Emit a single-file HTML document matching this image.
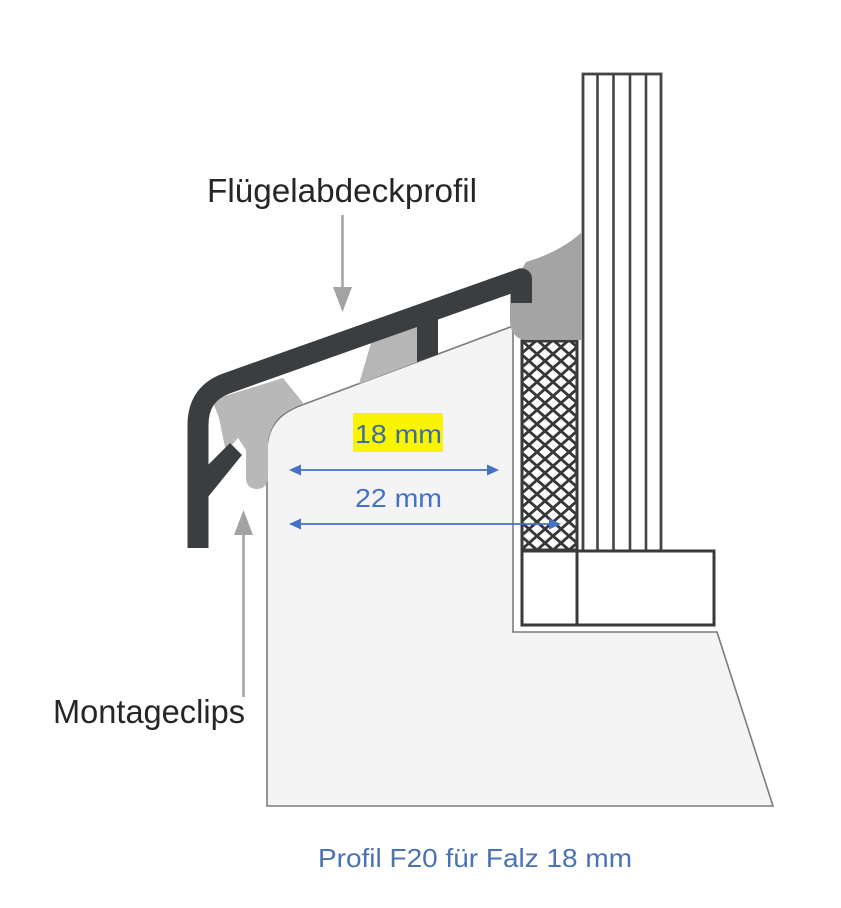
<!DOCTYPE html>
<html>
<head>
<meta charset="utf-8">
<style>
  html, body { margin: 0; padding: 0; background: #ffffff; }
  svg { display: block; }
  text { font-family: "Liberation Sans", sans-serif; }
</style>
</head>
<body>
<svg width="841" height="908" viewBox="0 0 841 908" xmlns="http://www.w3.org/2000/svg">
  <defs>
    <pattern id="hatch" patternUnits="userSpaceOnUse" x="521" y="340" width="16" height="14">
      <rect width="16" height="14" fill="#ffffff"/>
      <line x1="-1" y1="-0.875" x2="17" y2="14.875" stroke="#383838" stroke-width="2.9"/>
      <line x1="17" y1="-0.875" x2="-1" y2="14.875" stroke="#383838" stroke-width="2.9"/>
    </pattern>
  </defs>

  <rect width="841" height="908" fill="#ffffff"/>

  <!-- Sash body -->
  <path d="M513,326 L300,405.7 Q267,418 267,450 L267,806 L773,806 L717,632 L513,632 Z"
        fill="#f4f4f4" stroke="#7c7c7c" stroke-width="1.6" stroke-linejoin="miter"/>

  <!-- Glass -->
  <rect x="583" y="74" width="78" height="477" fill="#ffffff" stroke="#444" stroke-width="2.8"/>
  <line x1="597.5" y1="74" x2="597.5" y2="551" stroke="#444" stroke-width="2.6"/>
  <line x1="613.5" y1="74" x2="613.5" y2="551" stroke="#444" stroke-width="2.6"/>
  <line x1="630" y1="74" x2="630" y2="551" stroke="#444" stroke-width="2.6"/>
  <line x1="646" y1="74" x2="646" y2="551" stroke="#444" stroke-width="2.6"/>

  <!-- Lower frame rectangles -->
  <rect x="522" y="551" width="55" height="74" fill="#ffffff" stroke="#3a3a3a" stroke-width="3"/>
  <rect x="577" y="551" width="137" height="74" fill="#ffffff" stroke="#3a3a3a" stroke-width="3"/>

  <!-- Crosshatch seal -->
  <rect x="522" y="341" width="55" height="209" fill="url(#hatch)" stroke="#3a3a3a" stroke-width="3"/>

  <!-- Gray clips / seal -->
  <path d="M526,262 Q560,252 582,232 L582,340 L524,340 Q511,337 510,322 L510,290 Z" fill="#a4a4a4"/>
  <path d="M371,343 L417,325 L417,362 L359,384 Z" fill="#b6b6b7"/>
  <path d="M212,400 L283,378 L304,404 Q274,411 268,440 L268,478 Q267,489 256,489 Q246,488 246,478 L246,450 L238,438 L226,452 L219,418 Z" fill="#b8b8b9"/>

  <!-- Dark cover profile -->
  <path d="M198,548 L198,425 Q198,394 226,383.6 L521.5,278.8 L521.5,303"
        fill="none" stroke="#3b3e41" stroke-width="21" stroke-linejoin="round" stroke-linecap="butt"/>
  <polygon points="417,318 438,310 438,354.5 417,362" fill="#3b3e41"/>
  <polygon points="208,465 230,443 242,455 208,497" fill="#3b3e41"/>

  <!-- Gray pointer arrows -->
  <line x1="342.5" y1="215" x2="342.5" y2="290" stroke="#a3a3a3" stroke-width="2.5"/>
  <polygon points="333,287 352,287 342.5,312" fill="#a3a3a3"/>
  <line x1="243.5" y1="697" x2="243.5" y2="532" stroke="#a3a3a3" stroke-width="2.5"/>
  <polygon points="234,535 253,535 243.5,510" fill="#a3a3a3"/>

  <!-- Blue dimension arrows -->
  <line x1="298" y1="470" x2="490" y2="470" stroke="#4472c4" stroke-width="1.8"/>
  <polygon points="289,470 301,464.5 301,475.5" fill="#4472c4"/>
  <polygon points="499,470 487,464.5 487,475.5" fill="#4472c4"/>
  <line x1="298" y1="524" x2="552" y2="524" stroke="#4472c4" stroke-width="1.8"/>
  <polygon points="289,524 301,518.5 301,529.5" fill="#4472c4"/>
  <polygon points="561,524 549,518.5 549,529.5" fill="#4472c4"/>

  <!-- 18 mm highlighted -->
  <rect x="353" y="413" width="90" height="39" fill="#f9f400"/>
  <text x="355" y="443" font-size="26" fill="#3f6e9e" textLength="87" lengthAdjust="spacingAndGlyphs">18 mm</text>

  <!-- 22 mm -->
  <text x="355" y="507" font-size="26" fill="#4472c4" textLength="87" lengthAdjust="spacingAndGlyphs">22 mm</text>

  <!-- Labels -->
  <text x="207" y="202" font-size="33" fill="#262626" textLength="270" lengthAdjust="spacingAndGlyphs">Flügelabdeckprofil</text>
  <text x="53" y="723" font-size="33" fill="#262626" textLength="192" lengthAdjust="spacingAndGlyphs">Montageclips</text>

  <!-- Caption -->
  <text x="318" y="867" font-size="26" fill="#4a72b4" textLength="314" lengthAdjust="spacingAndGlyphs">Profil F20 für Falz 18 mm</text>
</svg>
</body>
</html>
